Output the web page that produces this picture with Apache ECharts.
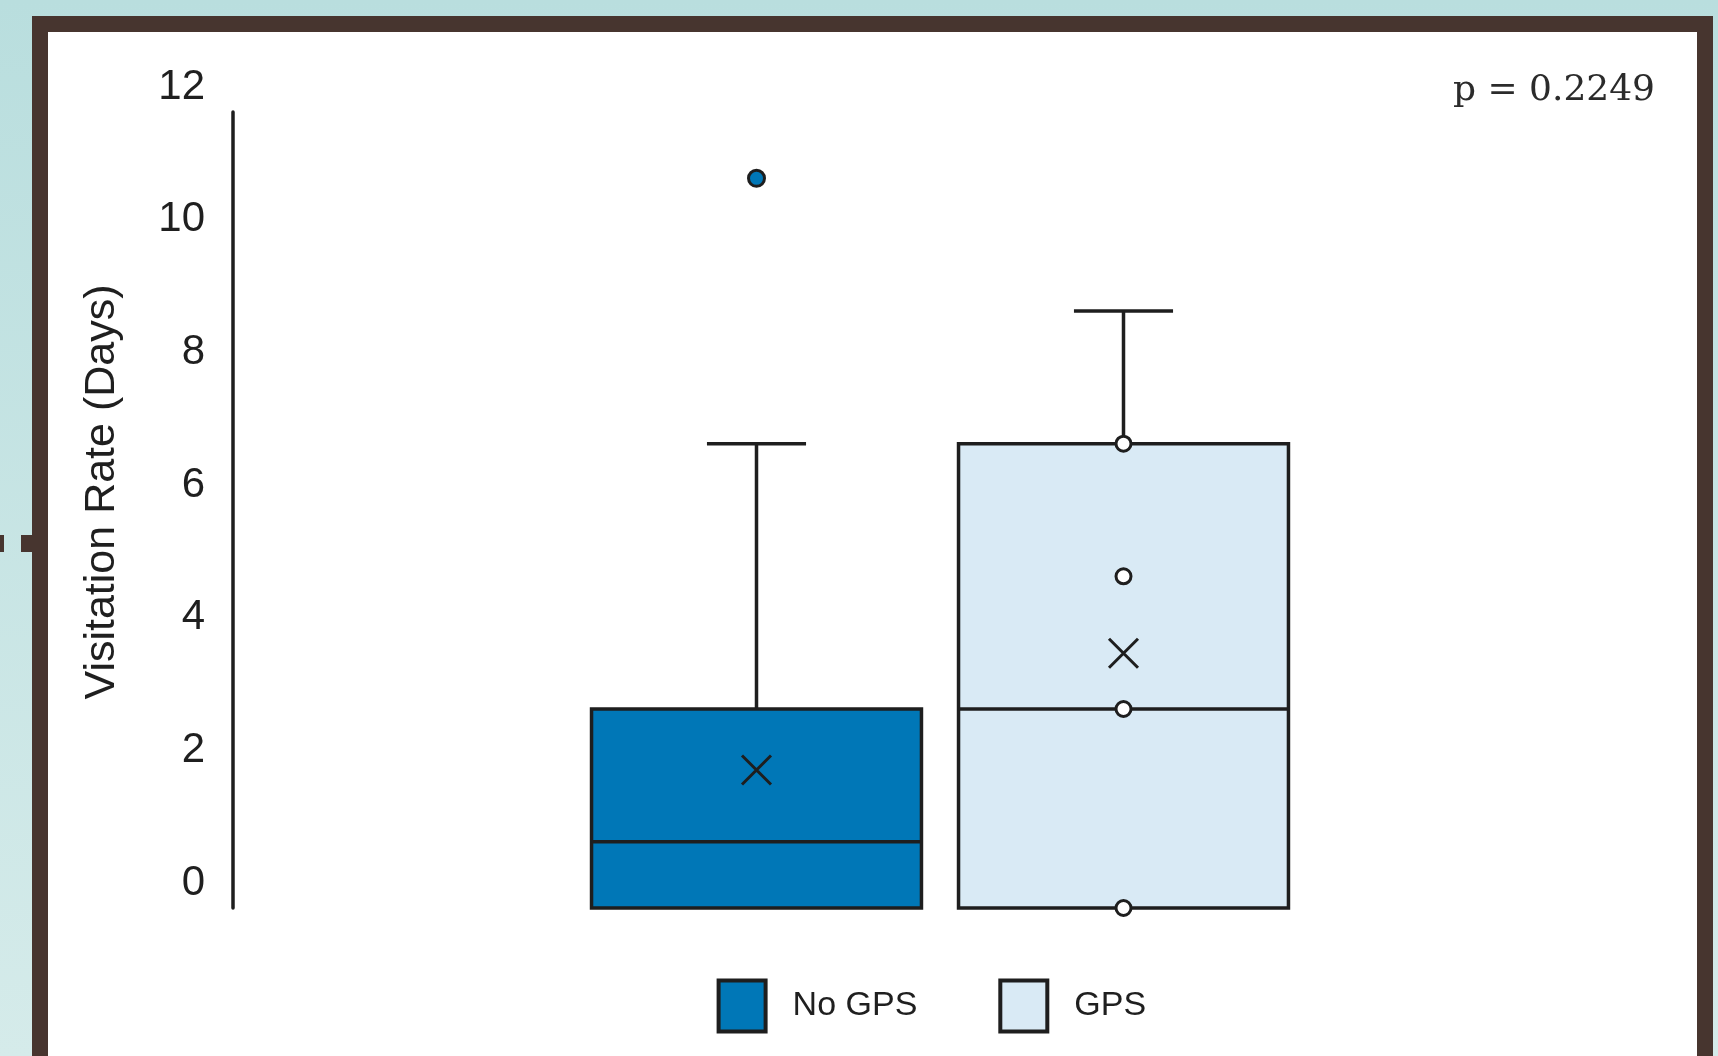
<!DOCTYPE html>
<html>
<head>
<meta charset="utf-8">
<script src="https://cdn.jsdelivr.net/npm/echarts@6/dist/echarts.min.js"></script>
<style>
  html, body { margin: 0; padding: 0; }
  #chart { width: 1718px; height: 1056px; }
</style>
</head>
<body>
<div id="chart"></div>
<script>
// ---- data ----
const categories = ['No GPS', 'GPS'];
// [min, Q1, median, Q3, max]
const noGpsBox = [0, 0, 1, 3, 7];
const gpsBox = [0, 0, 3, 7, 9];
const noGpsMean = 2.08;
const gpsMean = 3.84;
const noGpsOutliers = [11];
const gpsInnerPoints = [7, 5, 3, 0];
const yMin = 0, yMax = 12, yInterval = 2;
const pValueText = 'p = 0.2249';
const axisTitle = 'Visitation Rate (Days)';

const DARK = '#1e1e1e';
const NO_GPS_COLOR = '#0077b7';
const GPS_COLOR = '#d9eaf5';
const FRAME = '#47352f';
const LW = 3.5;

function renderBox(params, api) {
  const cat = api.value(0);
  const p = (v) => api.coord([cat, v]);
  const cx = p(api.value(3))[0];
  const yMn = p(api.value(1))[1];
  const yQ1 = p(api.value(2))[1];
  const yMd = p(api.value(3))[1];
  const yQ3 = p(api.value(4))[1];
  const yMx = p(api.value(5))[1];
  const band = api.size([1, 0])[0];
  const bw = band * 0.899;
  const cw = band * 0.27;
  const ls = { stroke: DARK, lineWidth: LW };
  const children = [
    { type: 'line', shape: { x1: cx, y1: yQ3, x2: cx, y2: yMx }, style: ls },
    { type: 'line', shape: { x1: cx - cw / 2, y1: yMx, x2: cx + cw / 2, y2: yMx }, style: ls }
  ];
  if (yMn > yQ1 + 0.5) {
    children.push({ type: 'line', shape: { x1: cx, y1: yQ1, x2: cx, y2: yMn }, style: ls });
    children.push({ type: 'line', shape: { x1: cx - cw / 2, y1: yMn, x2: cx + cw / 2, y2: yMn }, style: ls });
  }
  children.push({
    type: 'rect',
    shape: { x: cx - bw / 2, y: yQ3, width: bw, height: yQ1 - yQ3 },
    style: { fill: api.visual('color'), stroke: DARK, lineWidth: LW }
  });
  children.push({ type: 'line', shape: { x1: cx - bw / 2, y1: yMd, x2: cx + bw / 2, y2: yMd }, style: ls });
  return { type: 'group', children };
}

const chart = echarts.init(document.getElementById('chart'));
chart.setOption({
  animation: false,
  backgroundColor: {
    type: 'linear', x: 0, y: 0, x2: 0, y2: 1,
    colorStops: [{ offset: 0, color: '#b9dede' }, { offset: 1, color: '#d5ebea' }]
  },
  graphic: [
    { type: 'rect', z: -100, shape: { x: 40, y: 24, width: 1665, height: 1100 },
      style: { fill: '#ffffff', stroke: FRAME, lineWidth: 16 } },
    { type: 'rect', z: -100, shape: { x: 0, y: 535, width: 4, height: 17 }, style: { fill: FRAME } },
    { type: 'rect', z: -100, shape: { x: 21, y: 535, width: 12, height: 17 }, style: { fill: FRAME } }
  ],
  title: {
    text: pValueText,
    right: 63, top: 73, padding: 0,
    textStyle: { fontFamily: 'DejaVu Serif', fontSize: 36, fontWeight: 'normal', color: '#2b2b2b' }
  },
  legend: {
    data: categories,
    left: 716.6, top: 978.5, padding: 0,
    itemWidth: 47, itemHeight: 51, itemGap: 81,
    icon: 'rect',
    itemStyle: { borderColor: DARK, borderWidth: 4 },
    textStyle: { fontFamily: 'Liberation Sans', fontSize: 34, color: '#1f1f1f', padding: [0, 0, 0, 22] }
  },
  grid: { left: 573, width: 734, top: 112, bottom: 148 },
  xAxis: {
    type: 'category', data: categories,
    axisLine: { show: false }, axisTick: { show: false }, axisLabel: { show: false }, splitLine: { show: false }
  },
  yAxis: {
    type: 'value', min: yMin, max: yMax, interval: yInterval, offset: 340,
    name: axisTitle, nameLocation: 'middle', nameGap: 109,
    nameTextStyle: { fontFamily: 'Liberation Sans', fontSize: 43, color: '#1f1f1f', padding: [0, 0, 0, 36] },
    axisLine: { show: true, lineStyle: { color: DARK, width: LW } },
    axisTick: { show: false },
    splitLine: { show: false },
    axisLabel: { fontFamily: 'Liberation Sans', fontSize: 42, color: '#1f1f1f', margin: 28,
      verticalAlign: 'bottom', lineHeight: 50 }
  },
  series: [
    { name: 'No GPS', type: 'custom', renderItem: renderBox,
      itemStyle: { color: NO_GPS_COLOR, borderColor: DARK, borderWidth: 3 },
      encode: { x: 0, y: [1, 2, 3, 4, 5] },
      data: [[categories[0]].concat(noGpsBox)] },
    { name: 'GPS', type: 'custom', renderItem: renderBox,
      itemStyle: { color: GPS_COLOR, borderColor: DARK, borderWidth: 3 },
      encode: { x: 0, y: [1, 2, 3, 4, 5] },
      data: [[categories[1]].concat(gpsBox)] },
    { name: 'Outliers', type: 'scatter', z: 5, symbol: 'circle', symbolSize: 16,
      itemStyle: { color: NO_GPS_COLOR, borderColor: DARK, borderWidth: 3, opacity: 1 },
      data: noGpsOutliers.map(v => [categories[0], v]) },
    { name: 'Inner points', type: 'scatter', z: 5, symbol: 'circle', symbolSize: 15,
      itemStyle: { color: '#ffffff', borderColor: DARK, borderWidth: 3, opacity: 1 },
      data: gpsInnerPoints.map(v => [categories[1], v]) },
    { name: 'Mean', type: 'scatter', z: 5, symbol: 'path://M0 0L10 10M10 0L0 10', symbolSize: 29,
      itemStyle: { color: 'transparent', borderColor: DARK, borderWidth: 3, opacity: 1 },
      data: [[categories[0], noGpsMean], [categories[1], gpsMean]] }
  ]
});
</script>
</body>
</html>
